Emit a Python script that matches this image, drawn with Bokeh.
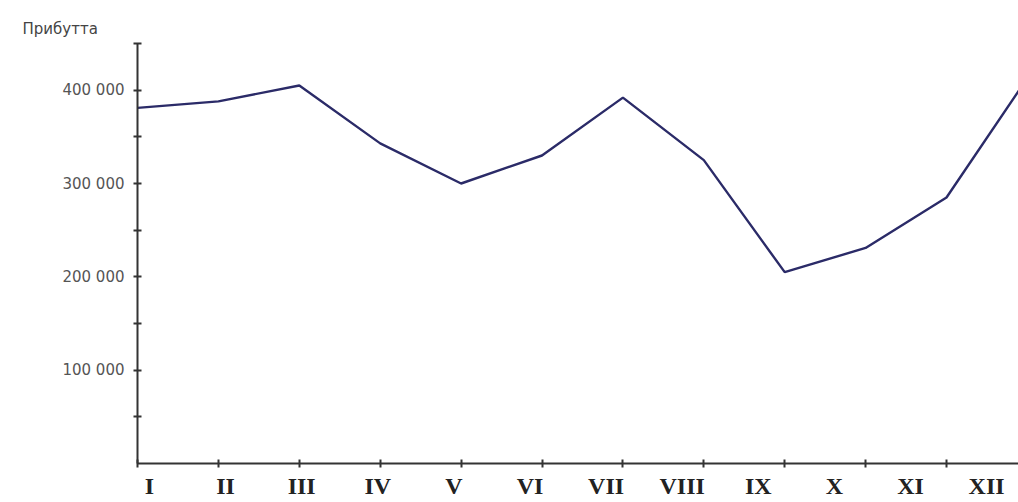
from bokeh.plotting import figure
from bokeh.models import Range1d, FixedTicker, LinearAxis
from bokeh.embed import file_html
from bokeh.resources import INLINE

# Monthly profit
months = list(range(1, 13))
month_labels = ["I", "II", "III", "IV", "V", "VI", "VII", "VIII", "IX", "X", "XI", "XII"]
profit = [381000, 388000, 405000, 343000, 300000, 330000, 392000, 325000, 205000, 231000, 285000, 413000]

y_major = [100000, 200000, 300000, 400000]
y_major_labels = ["100 000", "200 000", "300 000", "400 000"]
y_minor = [50000, 150000, 250000, 350000, 450000]

W, H = 1018, 502
left, top, bottom = 137, 43, 39
frame_w = W - left
month_px = 80.9      # tick spacing along the month axis
label_px = 76.1      # spacing of the numeral row under the axis
label_first = 12     # first numeral sits a little right of the corner

p = figure(width=W, height=H, output_backend="svg", toolbar_location=None,
           x_range=Range1d(1, 1 + frame_w / month_px),
           y_range=Range1d(0, 450000),
           min_border_left=left, min_border_right=0,
           min_border_top=top, min_border_bottom=bottom)
p.outline_line_color = None
p.xgrid.visible = False
p.ygrid.visible = False
p.background_fill_color = "white"
p.border_fill_color = "white"

# axis title in the top-left corner
p.title.text = "Прибутта"
p.title.align = "left"
p.title.offset = -115
p.title.standoff = 11
p.title.text_font = "DejaVu Sans"
p.title.text_font_size = "15px"
p.title.text_font_style = "normal"
p.title.text_color = "#444444"

# the numeral row has its own, slightly tighter spacing
p.extra_x_ranges = {"labels": Range1d(1 - label_first / label_px,
                                      1 + (frame_w - label_first) / label_px)}

p.line(months, profit, line_color="#2b2b68", line_width=2.4)

# x axis: line and month ticks only
xa = p.xaxis[0]
xa.ticker = FixedTicker(ticks=[], minor_ticks=months)
xa.minor_tick_in = 4
xa.minor_tick_out = 4
xa.minor_tick_line_width = 2
xa.minor_tick_line_color = "#333333"
xa.axis_line_width = 2
xa.axis_line_color = "#333333"
xa.major_label_standoff = 0

# roman numerals row
lx = LinearAxis(x_range_name="labels", ticker=FixedTicker(ticks=months),
                major_label_overrides={m: t for m, t in zip(months, month_labels)})
lx.axis_line_color = None
lx.major_tick_line_color = None
lx.minor_tick_line_color = None
lx.major_tick_in = 0
lx.major_tick_out = 0
lx.major_label_text_font = "Liberation Serif"
lx.major_label_text_font_style = "bold"
lx.major_label_text_font_size = "24px"
lx.major_label_text_color = "#222222"
lx.major_label_standoff = 5
p.add_layout(lx, "below")

# y axis
ya = p.yaxis[0]
ya.ticker = FixedTicker(ticks=y_major, minor_ticks=y_minor)
ya.major_label_overrides = {t: s for t, s in zip(y_major, y_major_labels)}
ya.major_tick_in = 4
ya.major_tick_out = 4
ya.minor_tick_in = 4
ya.minor_tick_out = 4
ya.axis_line_width = 2
ya.axis_line_color = "#333333"
ya.major_tick_line_color = "#333333"
ya.minor_tick_line_color = "#333333"
ya.major_tick_line_width = 2
ya.minor_tick_line_width = 2
ya.major_label_text_font = "DejaVu Sans"
ya.major_label_text_font_size = "15px"
ya.major_label_text_color = "#555555"
ya.major_label_standoff = 9

open("out.html", "w").write(file_html(p, INLINE))
